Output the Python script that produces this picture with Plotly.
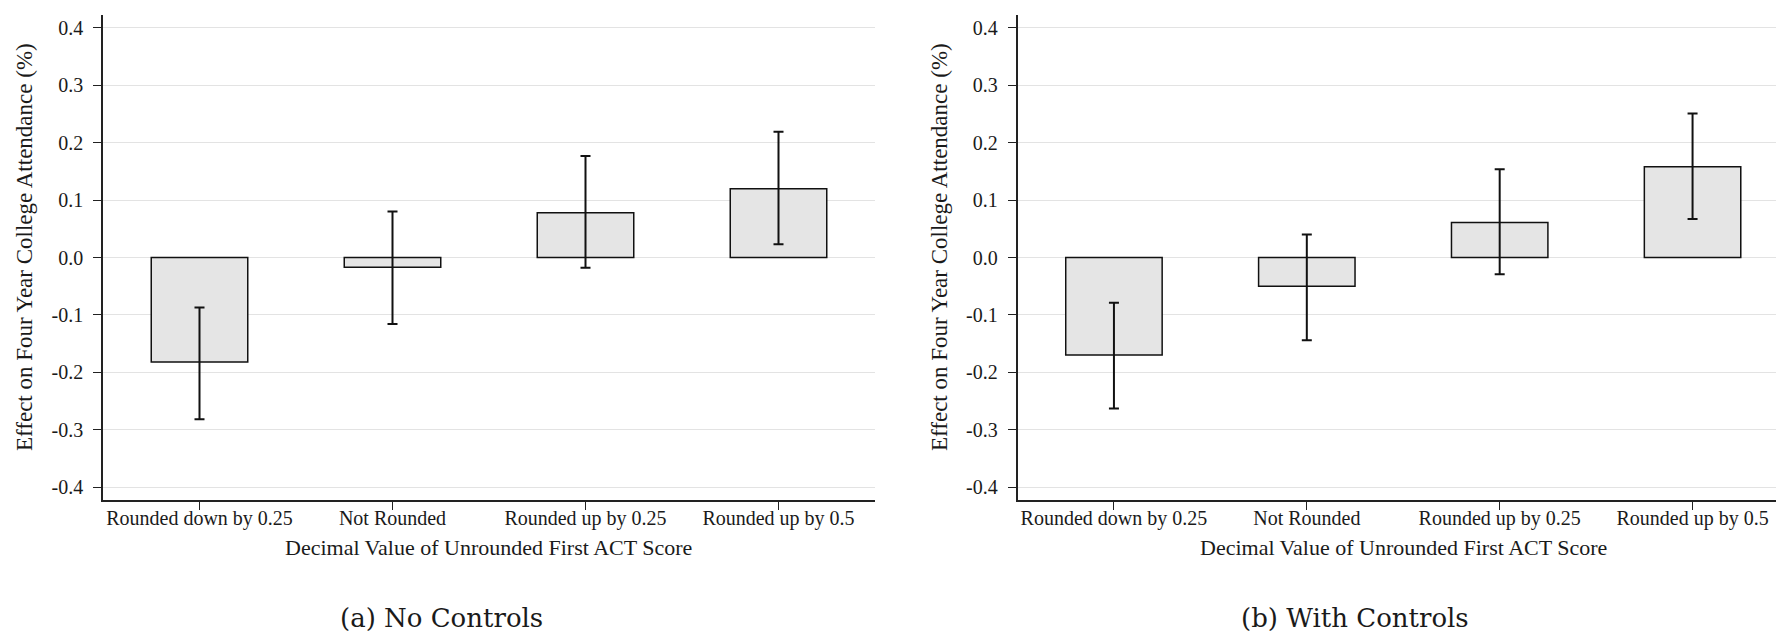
import plotly.graph_objects as go

categories = ["Rounded down by 0.25", "Not Rounded", "Rounded up by 0.25", "Rounded up by 0.5"]

# Panel (a) No Controls
est_a = [-0.182, -0.017, 0.078, 0.120]
ci_low_a = [-0.282, -0.116, -0.018, 0.023]
ci_high_a = [-0.087, 0.080, 0.177, 0.219]

# Panel (b) With Controls
est_b = [-0.170, -0.050, 0.061, 0.158]
ci_low_b = [-0.263, -0.144, -0.029, 0.067]
ci_high_b = [-0.079, 0.040, 0.154, 0.251]

y_tickvals = [-0.4, -0.3, -0.2, -0.1, 0.0, 0.1, 0.2, 0.3, 0.4]
y_ticktext = ["-0.4", "-0.3", "-0.2", "-0.1", "0.0", "0.1", "0.2", "0.3", "0.4"]

x_title = "Decimal Value of Unrounded First ACT Score"
y_title = "Effect on Four Year College Attendance (%)"
captions = ["(a) No Controls", "(b) With Controls"]

FONT = "Liberation Serif"
CAPFONT = "DejaVu Serif"
TXT = "#1a1a1a"
W, H = 1784, 637

fig = go.Figure()

def add_panel(est, lo, hi, xa, ya):
    fig.add_trace(go.Bar(
        x=categories, y=est, width=0.5,
        marker=dict(color="#e5e5e5", line=dict(color="#111111", width=1.5)),
        error_y=dict(type="data", symmetric=False,
                     array=[h - e for h, e in zip(hi, est)],
                     arrayminus=[e - l for e, l in zip(est, lo)],
                     color="#111111", thickness=2, width=5),
        xaxis=xa, yaxis=ya, showlegend=False,
    ))

add_panel(est_a, ci_low_a, ci_high_a, "x", "y")
add_panel(est_b, ci_low_b, ci_high_b, "x2", "y2")

ydom = [(637 - 492) / H, (637 - 7) / H]
xdoms = [[95 / W, 867 / W], [1009.5 / W, 1781 / W]]

axis_common_x = dict(showline=True, linecolor="#222222", linewidth=1.5, ticks="outside",
                     ticklen=8, tickwidth=1.2, tickcolor="#222222", showgrid=False,
                     range=[-0.5, 3.5], tickfont=dict(family=FONT, size=20, color=TXT),
                     ticklabelstandoff=-9,
                     automargin=False, fixedrange=True)
axis_common_y = dict(showline=True, linecolor="#222222", linewidth=1.5, ticks="outside",
                     ticklen=8, tickwidth=1.2, tickcolor="#222222", showgrid=True,
                     gridcolor="#e3e3e3", gridwidth=1, zeroline=False,
                     range=[-0.4226, 0.4226], tickvals=y_tickvals, ticktext=y_ticktext,
                     tickfont=dict(family=FONT, size=20, color=TXT), automargin=False,
                     ticklabelstandoff=6,
                     fixedrange=True)

fig.update_layout(
    width=W, height=H,
    margin=dict(l=0, r=0, t=0, b=0),
    paper_bgcolor="white", plot_bgcolor="white",
    xaxis=dict(domain=xdoms[0], anchor="y", **axis_common_x),
    yaxis=dict(domain=ydom, anchor="x", **axis_common_y),
    xaxis2=dict(domain=xdoms[1], anchor="y2", **axis_common_x),
    yaxis2=dict(domain=ydom, anchor="x2", **axis_common_y),
    bargap=0.5,
)

annotations = []
for i, (dom, ytx, capx) in enumerate(zip(xdoms, [16, 931], [433.5, 1347])):
    annotations.append(dict(text=x_title, x=(dom[0] + dom[1]) / 2, y=(H - 539) / H,
                            xref="paper", yref="paper", showarrow=False,
                            font=dict(family=FONT, size=22, color=TXT),
                            xanchor="center", yanchor="middle"))
    annotations.append(dict(text=y_title, x=ytx / W, y=(H - 239) / H, textangle=-90,
                            xref="paper", yref="paper", showarrow=False,
                            font=dict(family=FONT, size=23, color=TXT),
                            xanchor="center", yanchor="middle"))
    annotations.append(dict(text=captions[i], x=capx / W, y=(H - 610) / H,
                            xref="paper", yref="paper", showarrow=False,
                            font=dict(family=CAPFONT, size=26, color=TXT),
                            xanchor="center", yanchor="middle"))
fig.update_layout(annotations=annotations)

fig.write_html("out.html")
